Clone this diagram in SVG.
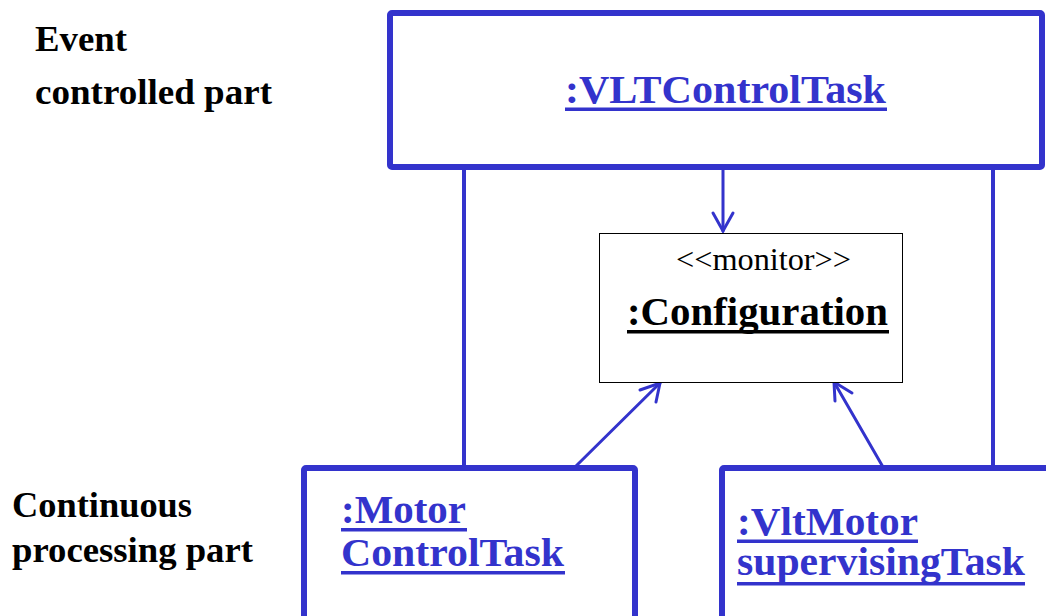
<svg xmlns="http://www.w3.org/2000/svg" width="1046" height="616" viewBox="0 0 1046 616">
<style>
.obj{fill:#fff;stroke:#3333cc;stroke-width:6;stroke-linejoin:round}
.conn{stroke:#3333cc;stroke-width:4;fill:none}
.arr{stroke:#3333cc;stroke-width:3;fill:none;stroke-linecap:round}
.bl{font-family:"Liberation Serif","Times New Roman",serif;font-weight:bold;fill:#3333cc;font-size:41px}
.ul{fill:#3333cc}
.lab{font-family:"Liberation Serif","Times New Roman",serif;font-weight:bold;fill:#000;font-size:36px}
</style>
<rect width="1046" height="616" fill="#fff"/>
<g id="labels">
<text class="lab" x="35" y="51" textLength="92" lengthAdjust="spacingAndGlyphs">Event</text>
<text class="lab" x="35" y="104" textLength="237" lengthAdjust="spacingAndGlyphs">controlled part</text>
<text class="lab" x="12" y="517" textLength="180" lengthAdjust="spacingAndGlyphs">Continuous</text>
<text class="lab" x="12" y="562" textLength="241" lengthAdjust="spacingAndGlyphs">processing part</text>
</g>
<g id="connectors">
<line class="conn" x1="464" y1="168" x2="464" y2="468"/>
<line class="conn" x1="993" y1="168" x2="993" y2="468"/>
<line class="arr" x1="723" y1="168" x2="723" y2="231"/>
<polyline class="arr" points="713,213 723,231 733,213"/>
<line class="arr" x1="575" y1="467" x2="660" y2="383"/>
<polyline class="arr" points="640,390 660,383 656,402"/>
<line class="arr" x1="883" y1="467" x2="834" y2="382"/>
<polyline class="arr" points="835,401 834,382 852,393"/>
</g>
<g id="vltcontroltask">
<rect class="obj" x="390" y="13" width="652" height="154" rx="2"/>
<text class="bl" x="565" y="103" textLength="321" lengthAdjust="spacingAndGlyphs">:VLTControlTask</text>
<rect class="ul" x="565" y="107.5" width="322" height="3.5"/>
</g>
<g id="configuration">
<rect x="599.5" y="233.5" width="303" height="149" fill="#fff" stroke="#000" stroke-width="1"/>
<text x="676" y="270" font-family="Liberation Serif,'Times New Roman',serif" font-size="32" fill="#000" textLength="175" lengthAdjust="spacingAndGlyphs">&lt;&lt;monitor&gt;&gt;</text>
<text x="627" y="325" font-family="Liberation Serif,'Times New Roman',serif" font-weight="bold" font-size="41" fill="#000" textLength="261" lengthAdjust="spacingAndGlyphs">:Configuration</text>
<rect x="627" y="330" width="262" height="3.5" fill="#000"/>
</g>
<g id="motorcontroltask">
<rect class="obj" x="304" y="468" width="331" height="170" rx="2"/>
<text class="bl" x="341" y="523" textLength="125" lengthAdjust="spacingAndGlyphs">:Motor</text>
<rect class="ul" x="341" y="528" width="126" height="3.5"/>
<text class="bl" x="341" y="566" textLength="223" lengthAdjust="spacingAndGlyphs">ControlTask</text>
<rect class="ul" x="341" y="571" width="224" height="3.5"/>
</g>
<g id="vltmotorsupervisingtask">
<rect class="obj" x="722" y="468" width="340" height="170" rx="2"/>
<text class="bl" x="737" y="535" textLength="181" lengthAdjust="spacingAndGlyphs">:VltMotor</text>
<rect class="ul" x="737" y="539.5" width="181" height="3.5"/>
<text class="bl" x="737" y="575" textLength="288" lengthAdjust="spacingAndGlyphs">supervisingTask</text>
<rect class="ul" x="737" y="582" width="288" height="3.5"/>
</g>
</svg>
